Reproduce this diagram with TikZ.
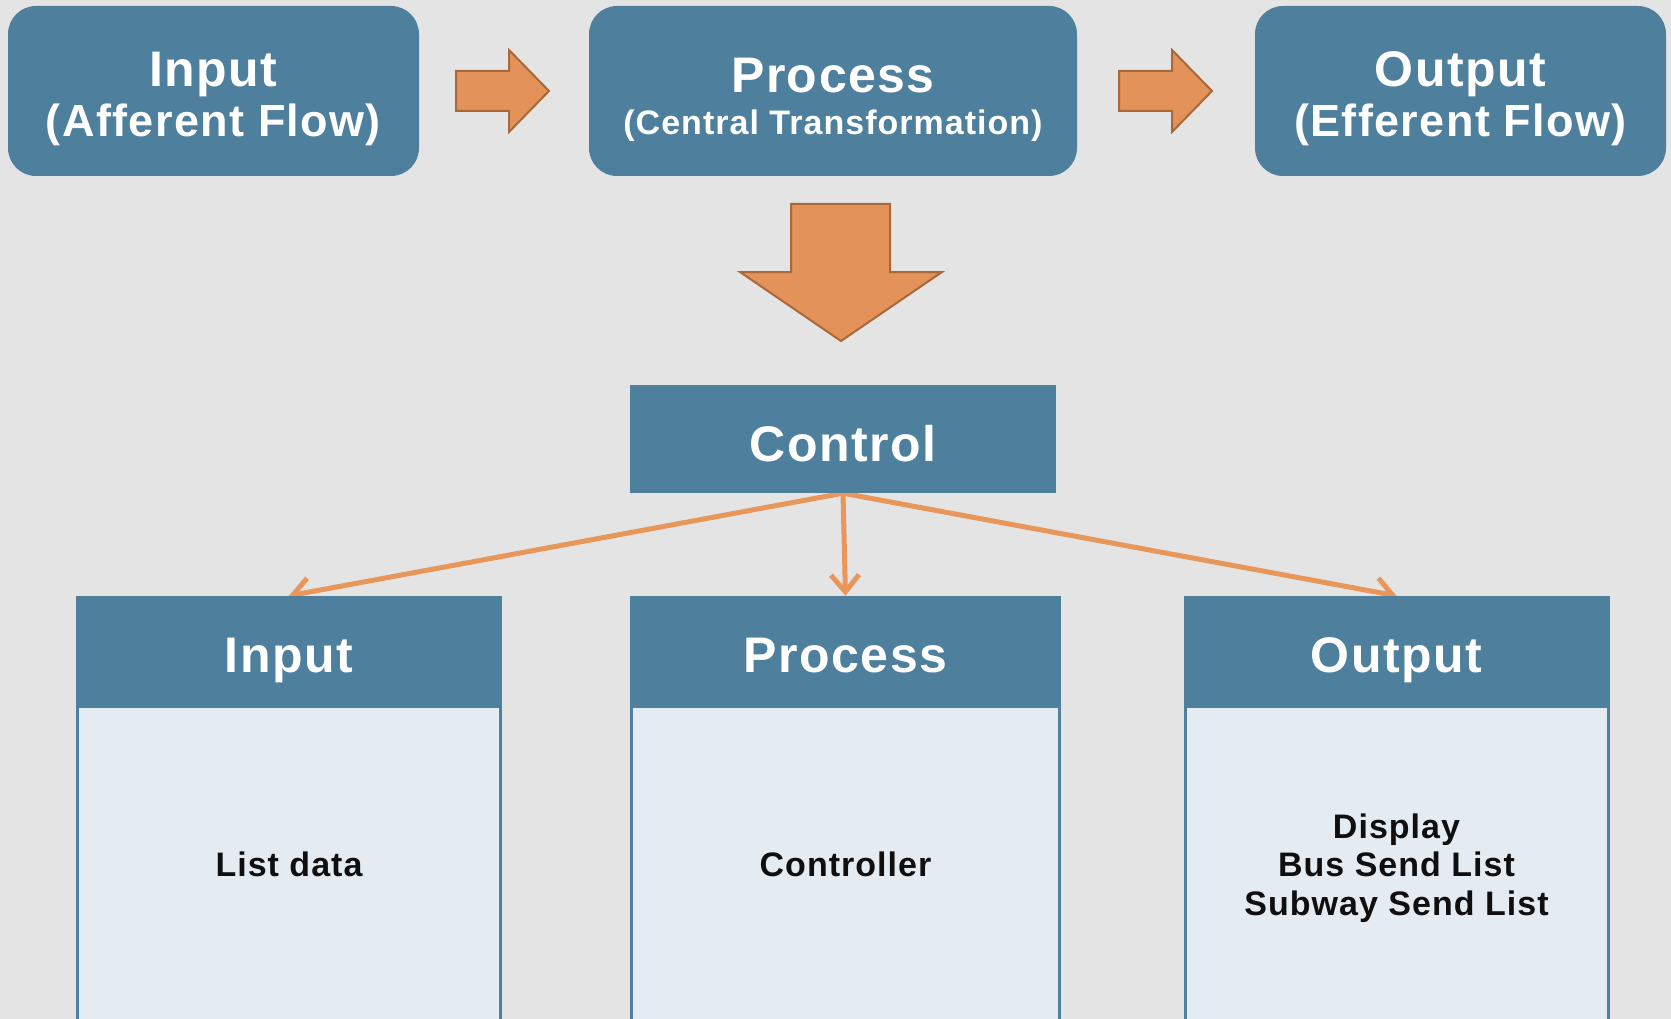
\documentclass[tikz,border=0pt]{standalone}
\usepackage{fontspec}
\setmainfont{Liberation Sans}[LetterSpace=3]
\usetikzlibrary{arrows.meta}
\pgfdeclarelayer{bg}
\pgfdeclarelayer{back}
\pgfsetlayers{bg,back,main}
\definecolor{boxblue}{RGB}{78,128,158}
\definecolor{bodyfill}{RGB}{228,236,242}
\definecolor{arrfill}{RGB}{227,147,90}
\definecolor{arrdraw}{RGB}{168,104,58}
\definecolor{linkc}{RGB}{232,150,90}
\definecolor{bggray}{RGB}{228,228,228}
\definecolor{bodytext}{RGB}{15,15,15}
\begin{document}
\begin{tikzpicture}[x=1pt,y=-1pt,
  topbox/.style={fill=boxblue, rounded corners=28pt, text=white, align=center,
    inner sep=0pt, minimum height=170pt, text depth=0pt},
  bigfont/.style={font=\bfseries\fontsize{50}{50}\selectfont},
  ctrlbox/.style={fill=boxblue, text=white, inner sep=0pt, bigfont,
    minimum width=426pt, minimum height=108pt, text height=44pt, text depth=0pt},
  headbox/.style={fill=boxblue, text=white, inner sep=0pt, bigfont,
    minimum height=109pt, text height=43pt, text depth=0pt},
  bodybox/.style={fill=bodyfill, draw=boxblue, line width=3pt, inner sep=0pt,
    minimum height=316.5pt, text=bodytext, align=center,
    font=\bfseries\fontsize{34}{38.5}\selectfont},
  blockarrow/.style={fill=arrfill, draw=arrdraw, line width=2pt, line join=miter},
  link/.style={draw=linkc, line width=5pt, -{Straight Barb[length=17pt,width=28pt,line width=5pt]}}
]
\useasboundingbox (0,0) rectangle (1671,1019);
\begin{pgfonlayer}{bg}
  \fill[bggray] (0,0) rectangle (1671,1019);
\end{pgfonlayer}

% top row
\node[topbox, minimum width=411pt, text height=92pt,
  font=\bfseries\fontsize{45}{50}\selectfont] (tin) at (213.5,91)
  {{\fontsize{50}{50}\selectfont Input}\\(Afferent Flow)};
\node[topbox, minimum width=488pt, text height=88pt,
  font=\bfseries\fontsize{34}{42}\selectfont] (tproc) at (833,91)
  {{\fontsize{50}{50}\selectfont Process}\\(Central Transformation)};
\node[topbox, minimum width=411pt, text height=92pt,
  font=\bfseries\fontsize{45}{50}\selectfont] (tout) at (1460.5,91)
  {{\fontsize{50}{50}\selectfont Output}\\(Efferent Flow)};

% block arrows
\draw[blockarrow] (456,71) -- (509,71) -- (509,50) -- (549,91) -- (509,132) -- (509,111) -- (456,111) -- cycle;
\draw[blockarrow] (1119,71) -- (1172,71) -- (1172,50) -- (1212,91) -- (1172,132) -- (1172,111) -- (1119,111) -- cycle;
\draw[blockarrow] (791,204) -- (890,204) -- (890,272) -- (942,272) -- (841,341) -- (740,272) -- (791,272) -- cycle;

% control
\node[ctrlbox] (ctrl) at (843,439) {Control};

% bottom cards
\node[headbox, minimum width=426pt] (hin) at (289,650.5) {Input};
\node[bodybox, minimum width=423pt] (bin) at (289,864.75) {List data};
\node[headbox, minimum width=431pt] (hproc) at (845.5,650.5) {Process};
\node[bodybox, minimum width=428pt] (bproc) at (845.5,864.75) {Controller};
\node[headbox, minimum width=426pt] (hout) at (1396.5,650.5) {Output};
\node[bodybox, minimum width=423pt, text depth=1pt] (bout) at (1396.5,864.75) {Display\\Bus Send List\\Subway Send List};

% connectors
\begin{pgfonlayer}{back}
  \draw[link] (ctrl.south) -- (hin.north);
  \draw[link] (ctrl.south) -- (hproc.north);
  \draw[link] (ctrl.south) -- (hout.north);
\end{pgfonlayer}
\end{tikzpicture}
\end{document}
